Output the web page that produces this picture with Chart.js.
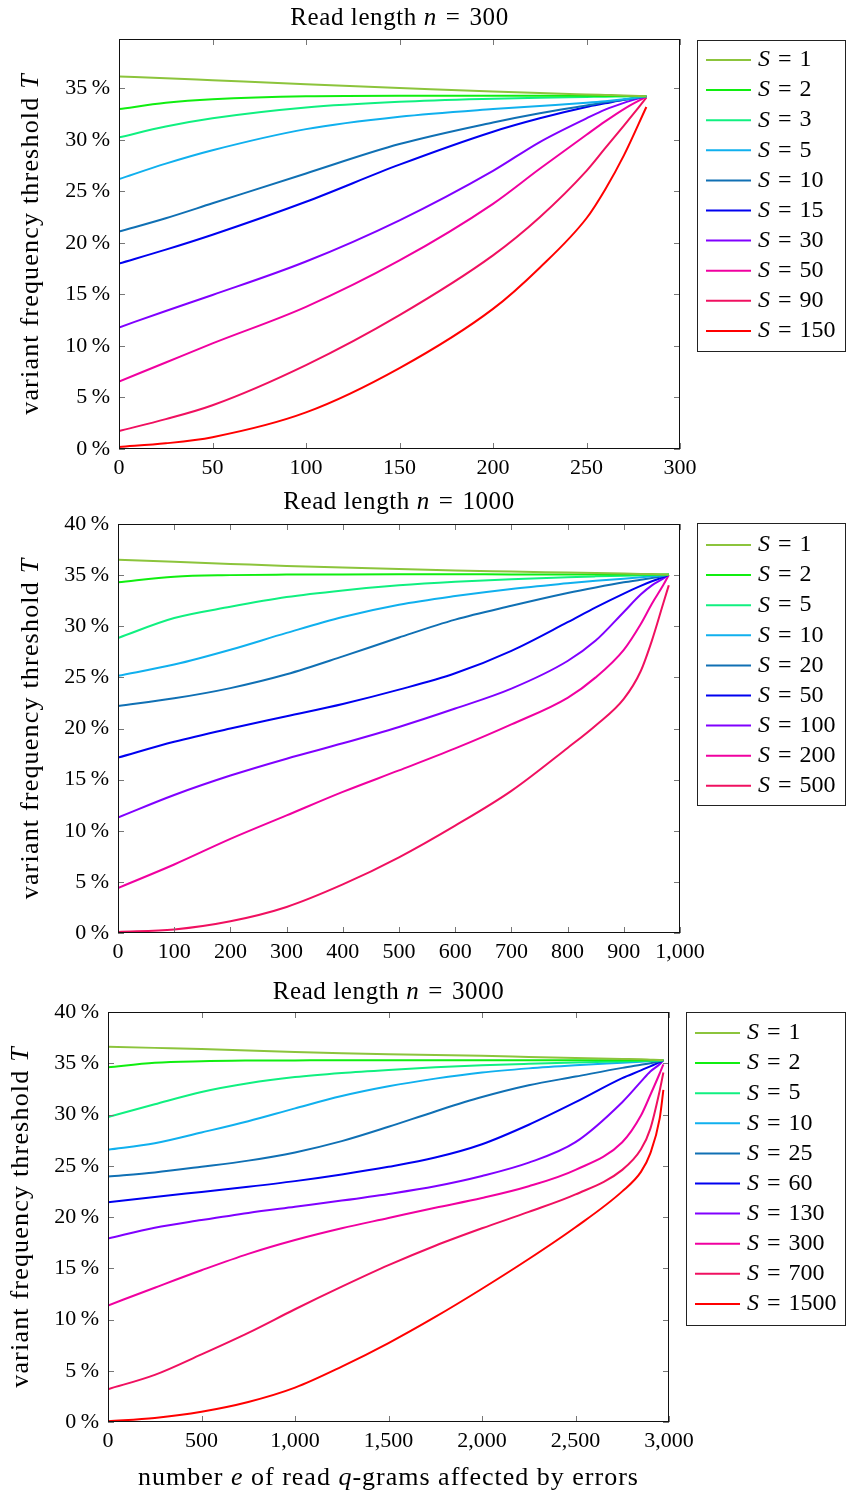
<!DOCTYPE html>
<html>
<head>
<meta charset="utf-8">
<script src="https://cdn.jsdelivr.net/npm/chart.js@4.4.1/dist/chart.umd.min.js"></script>
<style>
body { margin: 0; background: #fff; width: 846px; height: 1495px; position: relative; overflow: hidden; }
canvas { position: absolute; left: 0; }
</style>
</head>
<body>
<canvas id="g300" width="846" height="485" style="top:0px"></canvas>
<canvas id="g1000" width="846" height="490" style="top:485px"></canvas>
<canvas id="g3000" width="846" height="520" style="top:975px"></canvas>
<script>
// couleurs des courbes, dans l'ordre des légendes
const palette = ['#8cc43c', '#10ee10', '#10f080', '#10b0ee', '#1070b4', '#0000f0', '#8000ff', '#f000a0', '#f01060', '#ff0000'];

// Read length n = 300
const e300 = [0, 25, 50, 100, 150, 200, 225, 250, 260, 270, 282];
const S300 = [1, 2, 3, 5, 10, 15, 30, 50, 90, 150];
const T300 = [
	[36.15, 36.0, 35.8, 35.4, 35.05, 34.7, 34.55, 34.42, 34.37, 34.32, 34.25],
	[33.0, 33.6, 33.95, 34.25, 34.3, 34.3, 34.3, 34.28, 34.27, 34.26, 34.25],
	[30.25, 31.3, 32.1, 33.15, 33.7, 34.0, 34.1, 34.17, 34.2, 34.22, 34.25],
	[26.2, 27.7, 29.0, 31.05, 32.25, 33.0, 33.3, 33.6, 33.75, 33.95, 34.25],
	[21.1, 22.4, 23.85, 26.75, 29.6, 31.7, 32.6, 33.35, 33.65, 33.9, 34.25],
	[18.0, 19.35, 20.8, 24.0, 27.6, 30.8, 32.1, 33.2, 33.55, 33.9, 34.25],
	[11.8, 13.4, 14.95, 18.2, 22.2, 27.0, 29.8, 32.1, 32.95, 33.6, 34.25],
	[6.55, 8.4, 10.25, 13.8, 18.3, 23.8, 27.2, 30.5, 31.8, 33.0, 34.2],
	[1.75, 2.9, 4.25, 8.15, 13.0, 18.8, 22.5, 27.0, 29.2, 31.4, 34.1],
	[0.2, 0.55, 1.15, 3.55, 7.85, 13.6, 17.6, 22.4, 25.2, 28.5, 33.2]
];

// Read length n = 1000
const e1000 = [0, 100, 200, 300, 400, 500, 600, 700, 800, 850, 900, 930, 950, 970, 980];
const S1000 = [1, 2, 5, 10, 20, 50, 100, 200, 500];
const T1000 = [
	[36.5, 36.3, 36.1, 35.9, 35.75, 35.6, 35.45, 35.35, 35.25, 35.2, 35.15, 35.12, 35.1, 35.07, 35.05],
	[34.3, 34.85, 35.0, 35.05, 35.07, 35.08, 35.08, 35.07, 35.07, 35.06, 35.06, 35.05, 35.05, 35.05, 35.05],
	[28.85, 30.8, 31.9, 32.85, 33.5, 34.0, 34.35, 34.6, 34.8, 34.88, 34.95, 34.98, 35.0, 35.03, 35.05],
	[25.15, 26.25, 27.7, 29.35, 30.9, 32.1, 32.95, 33.65, 34.2, 34.45, 34.65, 34.8, 34.88, 34.97, 35.05],
	[22.2, 22.95, 23.95, 25.3, 27.05, 28.9, 30.65, 32.0, 33.25, 33.8, 34.3, 34.55, 34.72, 34.9, 35.05],
	[17.15, 18.7, 20.0, 21.2, 22.4, 23.8, 25.4, 27.6, 30.4, 31.85, 33.2, 33.95, 34.4, 34.8, 35.05],
	[11.3, 13.5, 15.4, 17.05, 18.55, 20.15, 21.95, 23.9, 26.6, 28.6, 31.4, 33.1, 34.0, 34.65, 35.05],
	[4.4, 6.7, 9.2, 11.5, 13.8, 15.9, 18.05, 20.4, 23.0, 25.0, 27.7, 30.2, 32.2, 34.0, 35.0],
	[0.1, 0.35, 1.15, 2.55, 4.75, 7.4, 10.5, 13.9, 18.1, 20.3, 22.9, 25.6, 28.6, 32.2, 34.0]
];

// Read length n = 3000
const e3000 = [0, 250, 500, 750, 1000, 1250, 1500, 1750, 2000, 2250, 2500, 2750, 2850, 2900, 2950, 2970];
const S3000 = [1, 2, 5, 10, 25, 60, 130, 300, 700, 1500];
const T3000 = [
	[36.6, 36.5, 36.4, 36.25, 36.1, 35.98, 35.88, 35.8, 35.72, 35.62, 35.52, 35.42, 35.38, 35.35, 35.32, 35.3],
	[34.6, 35.05, 35.2, 35.26, 35.28, 35.3, 35.3, 35.3, 35.3, 35.3, 35.3, 35.3, 35.3, 35.3, 35.3, 35.3],
	[29.75, 31.0, 32.2, 33.05, 33.65, 34.05, 34.35, 34.6, 34.8, 34.95, 35.08, 35.18, 35.22, 35.25, 35.28, 35.3],
	[26.57, 27.2, 28.25, 29.35, 30.6, 31.8, 32.75, 33.5, 34.1, 34.5, 34.8, 35.05, 35.15, 35.2, 35.26, 35.3],
	[23.96, 24.35, 24.9, 25.5, 26.3, 27.4, 28.8, 30.3, 31.7, 32.85, 33.7, 34.55, 34.85, 35.0, 35.2, 35.3],
	[21.44, 21.95, 22.45, 22.95, 23.5, 24.15, 24.9, 25.8, 27.1, 29.0, 31.2, 33.55, 34.3, 34.7, 35.1, 35.3],
	[17.9, 18.95, 19.7, 20.4, 21.0, 21.6, 22.25, 23.0, 24.0, 25.3, 27.3, 31.2, 33.2, 34.2, 34.9, 35.3],
	[11.37, 13.1, 14.8, 16.4, 17.75, 18.9, 19.9, 20.9, 21.85, 23.0, 24.6, 27.3, 29.9, 31.9, 34.0, 34.9],
	[3.2, 4.6, 6.6, 8.7, 11.0, 13.2, 15.3, 17.2, 18.9, 20.5, 22.2, 24.6, 26.6, 28.6, 32.3, 34.1],
	[0.07, 0.4, 1.0, 1.95, 3.35, 5.4, 7.7, 10.25, 13.0, 15.9, 19.0, 22.5, 24.4, 26.2, 29.6, 32.4]
];

const FONT = '"Liberation Serif", "Times New Roman", serif';

// texte avec morceaux en italique : parts = [[texte, italique], ...]
function rich(ctx, parts, x, y, size, align, spacing) {
	ctx.letterSpacing = (spacing || 0) + 'px';
	let w = 0;
	parts.forEach(p => {
		ctx.font = (p[1] ? 'italic ' : '') + size + 'px ' + FONT;
		w += ctx.measureText(p[0]).width;
	});
	let cx = align === 'center' ? x - w / 2 : x;
	ctx.textAlign = 'left';
	ctx.textBaseline = 'middle';
	ctx.fillStyle = '#000';
	parts.forEach(p => {
		ctx.font = (p[1] ? 'italic ' : '') + size + 'px ' + FONT;
		ctx.fillText(p[0], cx, y);
		cx += ctx.measureText(p[0]).width;
	});
	ctx.letterSpacing = '0px';
}

// cadre, petites graduations, titres et légende
function decor(cfg) {
	return {
		id: 'decor',
		afterDraw(chart) {
			const ctx = chart.ctx;
			const a = chart.chartArea;
			const xs = chart.scales.x, ys = chart.scales.y;
			ctx.save();
			ctx.strokeStyle = '#777';
			ctx.lineWidth = 1;
			ctx.beginPath();
			xs.ticks.forEach(t => {
				const px = Math.round(xs.getPixelForValue(t.value)) + 0.5;
				ctx.moveTo(px, a.bottom); ctx.lineTo(px, a.bottom - 6);
				ctx.moveTo(px, a.top); ctx.lineTo(px, a.top + 6);
			});
			ys.ticks.forEach(t => {
				const py = Math.round(ys.getPixelForValue(t.value)) + 0.5;
				ctx.moveTo(a.left, py); ctx.lineTo(a.left + 6, py);
				ctx.moveTo(a.right, py); ctx.lineTo(a.right - 6, py);
			});
			ctx.stroke();
			ctx.strokeStyle = '#111';
			ctx.strokeRect(a.left + 0.5, a.top + 0.5, a.right - a.left - 1, a.bottom - a.top - 1);

			// titre
			rich(ctx, [['Read length ', false], ['n', true], ['\u2004=\u2004' + cfg.n, false]], (a.left + a.right) / 2, cfg.titleY, 25, 'center', 0.6);

			// titre axe y
			ctx.save();
			ctx.translate(cfg.yTitleX, (a.top + a.bottom) / 2);
			ctx.rotate(-Math.PI / 2);
			rich(ctx, [['variant frequency threshold ', false], ['T', true]], 0, 0, 26, 'center', 1.2);
			ctx.restore();

			// titre axe x (seulement le dernier)
			if (cfg.xTitle) {
				rich(ctx, [['number ', false], ['e', true], [' of read ', false], ['q', true], ['-grams affected by errors', false]],
					(a.left + a.right) / 2, cfg.xTitleY, 26, 'center', 1.0);
			}

			// légende
			const L = cfg.legend;
			ctx.strokeStyle = '#222';
			ctx.strokeRect(L.x + 0.5, L.y + 0.5, L.w, L.h);
			chart.data.datasets.forEach((ds, i) => {
				const ly = L.first + i * 30.1;
				ctx.strokeStyle = ds.borderColor;
				ctx.lineWidth = 2;
				ctx.beginPath();
				ctx.moveTo(L.x + 9, ly); ctx.lineTo(L.x + 54, ly);
				ctx.stroke();
				rich(ctx, [['S', true], ['\u2004=\u2004' + ds.sVal, false]], L.x + 61, ly, 24, 'left', 0);
			});
			ctx.restore();
		}
	};
}

function makeChart(id, cfg) {
	const canvas = document.getElementById(id);
	const H = canvas.height;
	const tickFont = { family: FONT, size: 22 };
	const datasets = cfg.S.map((s, i) => ({
		label: 'S = ' + s,
		sVal: s,
		data: cfg.e.map((x, j) => ({ x: x, y: cfg.T[i][j] })),
		borderColor: palette[i],
		borderWidth: 2,
		pointRadius: 0,
		cubicInterpolationMode: 'monotone',
		fill: false
	}));
	return new Chart(canvas, {
		type: 'line',
		data: { datasets: datasets },
		options: {
			responsive: false,
			animation: false,
			devicePixelRatio: 1,
			events: [],
			layout: { padding: { left: 0, top: cfg.top, right: 846 - cfg.right, bottom: 0 } },
			scales: {
				x: {
					type: 'linear', min: 0, max: cfg.xMax,
					grid: { display: false, drawTicks: false },
					border: { display: false },
					ticks: {
						stepSize: cfg.xStep, maxRotation: 0, autoSkip: false, padding: 6,
						color: '#000', font: tickFont,
						callback: v => v.toLocaleString('en-US')
					},
					afterFit: s => { s.height = H - cfg.bottom; }
				},
				y: {
					type: 'linear', min: 0, max: cfg.yMax,
					grid: { display: false, drawTicks: false },
					border: { display: false },
					ticks: {
						stepSize: 5, padding: 9, color: '#000', font: tickFont,
						callback: v => v + '\u2009%'
					},
					afterBuildTicks: s => { s.ticks = s.ticks.filter(t => t.value % 5 === 0); },
					afterFit: s => { s.width = cfg.left; }
				}
			},
			plugins: { legend: { display: false }, tooltip: { enabled: false }, title: { display: false } }
		},
		plugins: [decor(cfg)]
	});
}

makeChart('g300', {
	n: 300, e: e300, S: S300, T: T300, xMax: 300, xStep: 50, yMax: 39.8,
	left: 119, right: 680, top: 39, bottom: 449, titleY: 18, yTitleX: 31,
	legend: { x: 697, y: 40, w: 148, h: 311, first: 60 }
});

makeChart('g1000', {
	n: 1000, e: e1000, S: S1000, T: T1000, xMax: 1000, xStep: 100, yMax: 40,
	left: 118, right: 680, top: 39, bottom: 448, titleY: 17, yTitleX: 31,
	legend: { x: 697, y: 38, w: 148, h: 282, first: 60 }
});

makeChart('g3000', {
	n: 3000, e: e3000, S: S3000, T: T3000, xMax: 3000, xStep: 500, yMax: 40,
	left: 108, right: 669, top: 37, bottom: 447, titleY: 17, yTitleX: 21,
	xTitle: true, xTitleY: 503,
	legend: { x: 686, y: 37, w: 159, h: 313, first: 58 }
});
</script>
</body>
</html>
